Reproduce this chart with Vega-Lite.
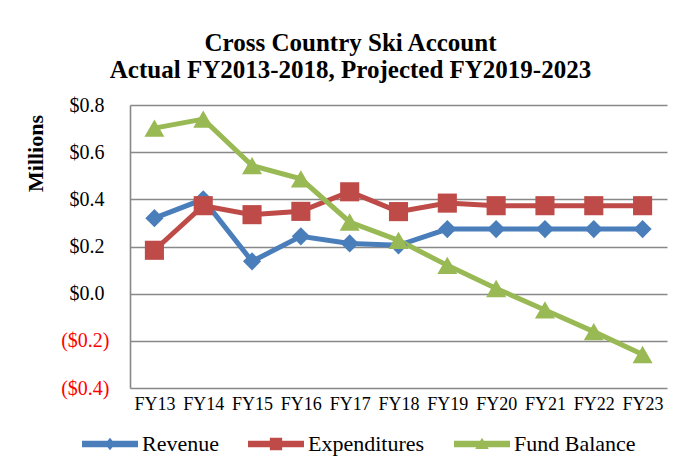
{
  "$schema": "https://vega.github.io/schema/vega-lite/v6.json",
  "width": 537,
  "height": 283,
  "autosize": {"type": "none"},
  "padding": {"left": 130, "top": 105, "right": 19, "bottom": 73},
  "background": "white",
  "title": {
    "text": ["Cross Country Ski Account", "Actual FY2013-2018, Projected FY2019-2023"],
    "font": "Liberation Serif",
    "fontSize": 25,
    "fontWeight": "bold",
    "color": "black",
    "lineHeight": 27,
    "anchor": "middle",
    "frame": "bounds",
    "offset": 12,
    "dx": 5
  },
  "data": {
    "values": [
      {"fy": "FY13", "series": "Revenue", "value": 0.32},
      {"fy": "FY14", "series": "Revenue", "value": 0.40},
      {"fy": "FY15", "series": "Revenue", "value": 0.137},
      {"fy": "FY16", "series": "Revenue", "value": 0.243},
      {"fy": "FY17", "series": "Revenue", "value": 0.213},
      {"fy": "FY18", "series": "Revenue", "value": 0.205},
      {"fy": "FY19", "series": "Revenue", "value": 0.274},
      {"fy": "FY20", "series": "Revenue", "value": 0.274},
      {"fy": "FY21", "series": "Revenue", "value": 0.274},
      {"fy": "FY22", "series": "Revenue", "value": 0.274},
      {"fy": "FY23", "series": "Revenue", "value": 0.274},
      {"fy": "FY13", "series": "Expenditures", "value": 0.184},
      {"fy": "FY14", "series": "Expenditures", "value": 0.373},
      {"fy": "FY15", "series": "Expenditures", "value": 0.335},
      {"fy": "FY16", "series": "Expenditures", "value": 0.349},
      {"fy": "FY17", "series": "Expenditures", "value": 0.432},
      {"fy": "FY18", "series": "Expenditures", "value": 0.348},
      {"fy": "FY19", "series": "Expenditures", "value": 0.384},
      {"fy": "FY20", "series": "Expenditures", "value": 0.373},
      {"fy": "FY21", "series": "Expenditures", "value": 0.373},
      {"fy": "FY22", "series": "Expenditures", "value": 0.373},
      {"fy": "FY23", "series": "Expenditures", "value": 0.373},
      {"fy": "FY13", "series": "Fund Balance", "value": 0.702},
      {"fy": "FY14", "series": "Fund Balance", "value": 0.74},
      {"fy": "FY15", "series": "Fund Balance", "value": 0.543},
      {"fy": "FY16", "series": "Fund Balance", "value": 0.487},
      {"fy": "FY17", "series": "Fund Balance", "value": 0.304},
      {"fy": "FY18", "series": "Fund Balance", "value": 0.226},
      {"fy": "FY19", "series": "Fund Balance", "value": 0.12},
      {"fy": "FY20", "series": "Fund Balance", "value": 0.022},
      {"fy": "FY21", "series": "Fund Balance", "value": -0.069},
      {"fy": "FY22", "series": "Fund Balance", "value": -0.161},
      {"fy": "FY23", "series": "Fund Balance", "value": -0.258}
    ]
  },
  "encoding": {
    "x": {
      "field": "fy",
      "type": "nominal",
      "sort": null,
      "scale": {"type": "point", "padding": 0.5},
      "axis": {
        "title": null,
        "labelAngle": 0,
        "labelFont": "Liberation Serif",
        "labelFontSize": 18,
        "labelColor": "black",
        "labelPadding": 7,
        "ticks": false,
        "domain": false,
        "grid": false
      }
    },
    "y": {
      "field": "value",
      "type": "quantitative",
      "scale": {"domain": [-0.4, 0.8], "nice": false, "zero": false},
      "axis": {
        "title": "Millions",
        "titleFont": "Liberation Serif",
        "titleFontSize": 22,
        "titleFontWeight": "bold",
        "titleColor": "black",
        "titleAngle": -90,
        "titleAlign": "center",
        "titleBaseline": "middle",
        "titleX": -95,
        "titleY": 48,
        "values": [-0.4, -0.2, 0, 0.2, 0.4, 0.6, 0.8],
        "labelExpr": "datum.value < 0 ? '($' + format(-datum.value, '.1f') + ')' : '$' + format(datum.value, '.1f')",
        "labelColor": {"condition": {"test": "datum.value < 0", "value": "#ff0000"}, "value": "black"},
        "labelPadding": {"condition": {"test": "datum.value < 0", "value": 21}, "value": 26},
        "labelFont": "Liberation Serif",
        "labelFontSize": 20,
        "labelBaseline": "middle",
        "ticks": false,
        "domain": true,
        "domainColor": "#888888",
        "domainWidth": 1.6,
        "grid": true,
        "gridColor": "#888888",
        "gridWidth": 1.6
      }
    }
  },
  "layer": [
    {
      "mark": {"type": "line", "strokeWidth": 5},
      "encoding": {
        "color": {
          "field": "series",
          "type": "nominal",
          "scale": {"domain": ["Revenue", "Expenditures", "Fund Balance"], "range": ["#4a7ebb", "#be4b48", "#98b954"]},
          "legend": null
        }
      }
    },
    {
      "mark": {"type": "point", "filled": true, "opacity": 1},
      "encoding": {
        "color": {
          "field": "series",
          "type": "nominal",
          "scale": {"domain": ["Revenue", "Expenditures", "Fund Balance"], "range": ["#4a7ebb", "#be4b48", "#98b954"]},
          "legend": null
        },
        "shape": {
          "field": "series",
          "type": "nominal",
          "scale": {"domain": ["Revenue", "Expenditures", "Fund Balance"], "range": ["diamond", "square", "triangle-up"]},
          "legend": null
        },
        "size": {
          "field": "series",
          "type": "nominal",
          "scale": {"domain": ["Revenue", "Expenditures", "Fund Balance"], "range": [330, 400, 480]},
          "legend": null
        }
      }
    },
    {
      "transform": [{"filter": "datum.value > 100"}],
      "mark": {"type": "point", "filled": true},
      "encoding": {
        "color": {
          "field": "series",
          "type": "nominal",
          "scale": {"domain": ["Revenue", "Expenditures", "Fund Balance"], "range": ["#4a7ebb", "#be4b48", "#98b954"]},
          "legend": {
            "title": null,
            "orient": "none",
            "direction": "horizontal",
            "legendX": -48,
            "legendY": 311,
            "padding": 0,
            "symbolSize": 3136,
            "symbolStrokeWidth": 0,
            "symbolOpacity": 1,
            "labelFont": "Liberation Serif",
            "labelFontSize": 22,
            "labelColor": "black",
            "labelOffset": 4,
            "columnPadding": 29,
            "labelLimit": 300
          }
        },
        "shape": {
          "field": "series",
          "type": "nominal",
          "scale": {
            "domain": ["Revenue", "Expenditures", "Fund Balance"],
            "range": [
              "M-1,-0.116H1V0.116H-1Z M0,-0.22L0.18,0L0,0.22L-0.18,0Z",
              "M-1,-0.116H1V0.116H-1Z M-0.22,-0.22H0.22V0.22H-0.22Z",
              "M-1,-0.116H1V0.116H-1Z M0,-0.22L0.24,0.18H-0.24Z"
            ]
          },
          "legend": {
            "title": null,
            "orient": "none",
            "direction": "horizontal",
            "legendX": -48,
            "legendY": 311,
            "padding": 0,
            "symbolSize": 3136,
            "symbolStrokeWidth": 0,
            "symbolOpacity": 1,
            "labelFont": "Liberation Serif",
            "labelFontSize": 22,
            "labelColor": "black",
            "labelOffset": 4,
            "columnPadding": 29,
            "labelLimit": 300
          }
        }
      }
    }
  ],
  "resolve": {"scale": {"color": "independent", "shape": "independent", "size": "independent"}},
  "config": {
    "view": {"stroke": null},
    "font": "Liberation Serif"
  }
}
